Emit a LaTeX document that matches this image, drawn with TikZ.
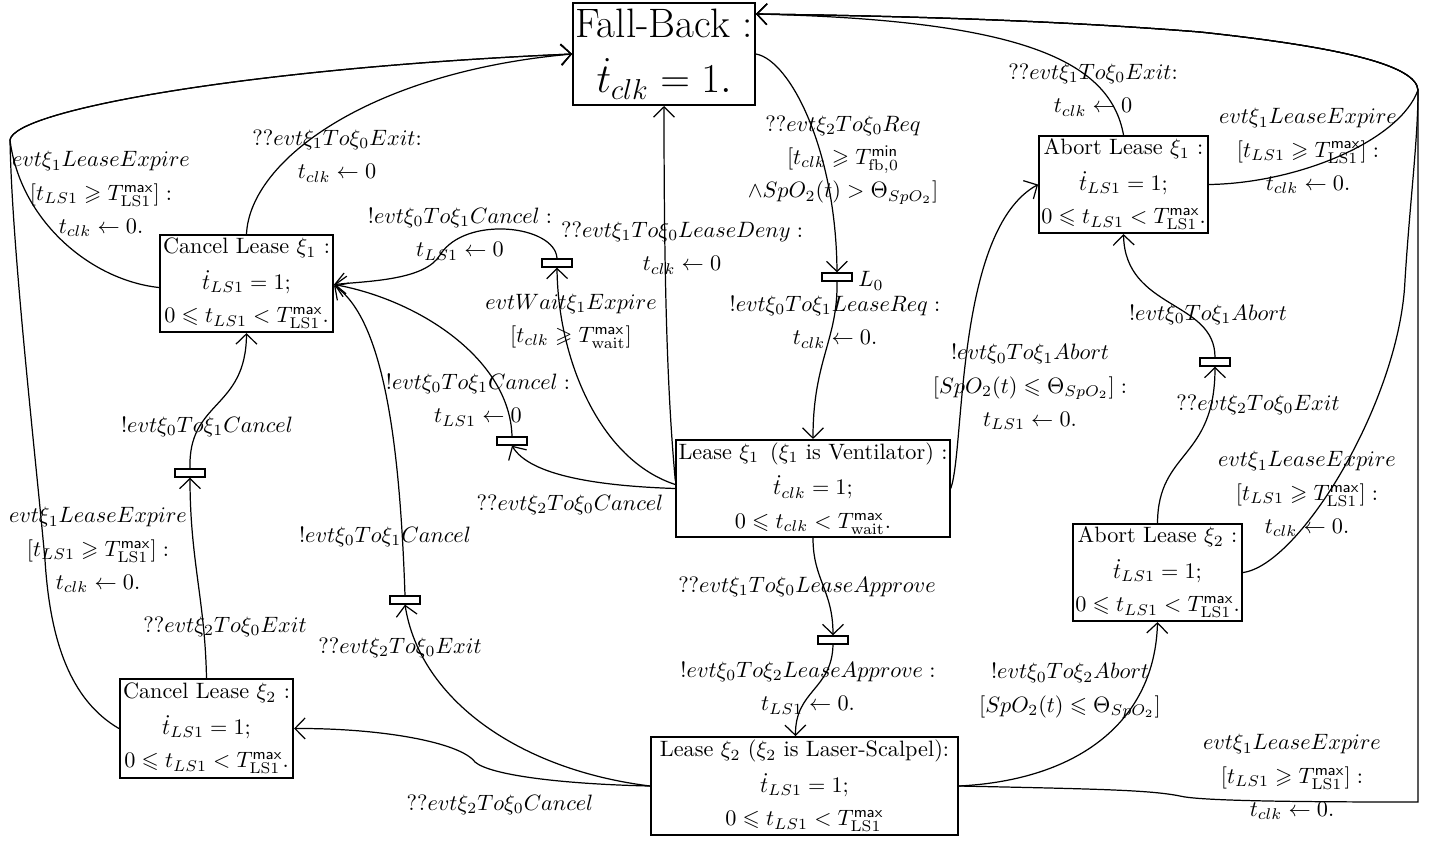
\RequirePackage{fix-cm}
\documentclass[tikz,border=0pt]{standalone}
\usepackage{amsmath,amssymb}
\usetikzlibrary{arrows.meta,calc}

\newcommand{\Tmx}[1]{T^{\mathsf{max}}_{\mathrm{#1}}}

\begin{document}
\begin{tikzpicture}[x=0.45pt,y=-0.45pt,
  box/.style={draw, line width=0.9pt, align=center, inner sep=1pt, font=\normalsize},
  chan/.style={draw, line width=0.6pt, minimum width=13.5pt, minimum height=3.6pt, inner sep=0pt},
  arr/.style={line width=0.55pt, -{Straight Barb[length=4.6pt,width=9.4pt]}},
  lab/.style={align=center, inner sep=0pt},
]
\useasboundingbox (0,0) rectangle (1437,840);

% locations
\node[box, minimum width=81pt, minimum height=45.9pt, font=\fontsize{18.5}{22}\selectfont] (fb) at (664,54)
  {Fall-Back :\\[3pt] $\dot t_{clk} = 1.$};
\node[box, minimum width=77.9pt, minimum height=43.7pt] (cl1) at (246.5,283.5)
  {Cancel Lease $\xi_1$ :\\[4pt] $\dot t_{LS1} = 1;$\\[3pt] $0 \leqslant t_{LS1} < \Tmx{LS1}.$};
\node[box, minimum width=76pt, minimum height=43.7pt] (al1) at (1123.5,184.5)
  {Abort Lease $\xi_1$ :\\[4pt] $\dot t_{LS1} = 1;$\\[3pt] $0 \leqslant t_{LS1} < \Tmx{LS1}.$};
\node[box, minimum width=120.6pt, minimum height=43.7pt] (l1) at (813,488.5)
  {Lease $\xi_1$\enspace($\xi_1$ is Ventilator) :\\[4pt] $\dot t_{clk} = 1;$\\[3pt] $0 \leqslant t_{clk} < \Tmx{wait}.$};
\node[box, minimum width=76pt, minimum height=43.7pt] (al2) at (1157.5,572.5)
  {Abort Lease $\xi_2$ :\\[4pt] $\dot t_{LS1} = 1;$\\[3pt] $0 \leqslant t_{LS1} < \Tmx{LS1}.$};
\node[box, minimum width=77.9pt, minimum height=44.5pt] (cl2) at (206.5,728.5)
  {Cancel Lease $\xi_2$ :\\[4pt] $\dot t_{LS1} = 1;$\\[3pt] $0 \leqslant t_{LS1} < \Tmx{LS1}.$};
\node[box, minimum width=138pt, minimum height=44pt] (l2) at (804.5,786)
  {Lease $\xi_2$ ($\xi_2$ is Laser-Scalpel):\\[4pt] $\dot t_{LS1} = 1;$\\[3pt] $0 \leqslant t_{LS1} < \Tmx{LS1}$};

% synchronisation markers
\node[chan] (rA) at (557,263) {};
\node[chan] (rB) at (512,441) {};
\node[chan] (rC) at (405,600) {};
\node[chan] (rD) at (190,473) {};
\node[chan] (r0) at (837,277) {};
\node[chan] (rE) at (833,640) {};
\node[chan] (rF) at (1215,362) {};
\node[lab, anchor=west] (nL0) at (858,281) {$L_0$};

% junctions of the long return lines
\coordinate (jL) at (10,140);
\coordinate (jR) at (1418,90);

% Fall-Back -> Lease xi_1
\draw[arr] (fb.east) .. controls (790,60) and (836,150) .. (r0.north);
\draw[arr] (r0.south) .. controls (838,340) and (813,360) .. (l1.north);

% Lease xi_1 outgoing
\draw[arr] ($(l1.west)+(0,-8)$) .. controls (668,400) and (664,300) .. (fb.south);
\draw[arr] ($(l1.west)+(0,-4)$) .. controls (600,460) and (558,360) .. (rA.south);
\draw[arr] (l1.west) .. controls (600,486) and (530,476) .. (rB.south);
\draw[arr] (l1.south) .. controls (813,580) and (833,590) .. (rE.north);
\draw[arr] (l1.east) .. controls (965,450) and (955,230) .. (al1.west);

% markers -> targets
\draw[arr] (rA.north) .. controls (555,225) and (465,215) .. (440,255)
  .. controls (425,280) and (370,281) .. ($(cl1.east)+(0,1)$);
\draw[arr] (rB.north) .. controls (510,360) and (420,300) .. ($(cl1.east)+(0,1)$);
\draw[arr] (rC.north) .. controls (400,450) and (385,320) .. ($(cl1.east)+(0,2)$);
\draw[arr] (rD.north) .. controls (188,400) and (246,410) .. (cl1.south);
\draw[arr] (rE.south) .. controls (832,690) and (795,690) .. ($(l2.north)+(-9,0)$);
\draw[arr] (rF.north) .. controls (1215,300) and (1125,310) .. (al1.south);

% Lease xi_2 outgoing
\draw[arr] (l2.west) .. controls (520,770) and (420,700) .. (rC.south);
\draw[arr] (l2.west) .. controls (560,784) and (490,775) .. (475,762)
  .. controls (460,742) and (380,728) .. (cl2.east);
\draw[arr] (l2.east) .. controls (1080,780) and (1155,720) .. (al2.south);
\draw[arr] (l2.east) .. controls (1100,789) and (1150,790) .. (1180,796)
  .. controls (1200,801) and (1300,802) .. (1418,802) -- (jR)
  .. controls (1416,65) and (1340,47) .. (1200,32)
  .. controls (1050,20) and (900,16) .. ($(fb.north east)+(0,12)$);

% Abort xi_2 outgoing
\draw[arr] (al2.north) .. controls (1158,450) and (1215,460) .. (rF.south);
\draw[arr] (al2.east) .. controls (1300,565) and (1400,400) .. (1405,280)
  .. controls (1410,200) and (1418,140) .. (jR)
  .. controls (1416,65) and (1340,47) .. (1200,32)
  .. controls (1050,20) and (900,16) .. ($(fb.north east)+(0,12)$);

% Abort xi_1 outgoing
\draw[arr] (al1.north) .. controls (1110,60) and (1020,20) .. ($(fb.north east)+(0,12)$);
\draw[arr] (al1.east) .. controls (1300,183) and (1400,140) .. (jR)
  .. controls (1416,65) and (1340,47) .. (1200,32)
  .. controls (1050,20) and (900,16) .. ($(fb.north east)+(0,12)$);

% Cancel xi_1 outgoing
\draw[arr] (cl1.north) .. controls (250,160) and (370,72) .. (fb.west);
\draw[arr] ($(cl1.west)+(0,4)$) .. controls (90,280) and (20,220) .. (jL)
  .. controls (14,110) and (250,68) .. (fb.west);

% Cancel xi_2 outgoing
\draw[arr] (cl2.north) .. controls (205,600) and (190,560) .. (rD.south);
\draw[arr] (cl2.west) .. controls (70,700) and (50,640) .. (45,560)
  .. controls (35,450) and (12,250) .. (jL)
  .. controls (14,110) and (250,68) .. (fb.west);

% transition labels
\node[lab] (lb1) at (101,194) {$evt\xi_1LeaseExpire$\\[3pt]$[t_{LS1} \geqslant \Tmx{LS1}]:$\\[3pt]$t_{clk} \leftarrow 0.$};
\node[lab] (lb2) at (337,156) {$??evt\xi_1To\xi_0Exit$:\\[3pt]$t_{clk} \leftarrow 0$};
\node[lab] (lb3) at (98,550) {$evt\xi_1LeaseExpire$\\[3pt]$[t_{LS1} \geqslant \Tmx{LS1}]:$\\[3pt]$t_{clk} \leftarrow 0.$};
\node[lab] (lb4) at (207,427) {$!evt\xi_0To\xi_1Cancel$};
\node[lab] (lb5) at (225,627) {$??evt\xi_2To\xi_0Exit$};
\node[lab] (lb6) at (385,537) {$!evt\xi_0To\xi_1Cancel$};
\node[lab] (lb7) at (400,648) {$??evt\xi_2To\xi_0Exit$};
\node[lab] (lb8) at (500,805) {$??evt\xi_2To\xi_0Cancel$};
\node[lab] (lb9) at (460,234) {$!evt\xi_0To\xi_1Cancel:$\\[3pt]$t_{LS1} \leftarrow 0$};
\node[lab] (lb10) at (571,321) {$evtWait\xi_1Expire$\\[3pt]$[t_{clk} \geqslant \Tmx{wait}]$};
\node[lab] (lb11) at (478,400) {$!evt\xi_0To\xi_1Cancel:$\\[3pt]$t_{LS1} \leftarrow 0$};
\node[lab] (lb12) at (570,505) {$??evt\xi_2To\xi_0Cancel$};
\node[lab] (lb13) at (682,248) {$??evt\xi_1To\xi_0LeaseDeny:$\\[3pt]$t_{clk} \leftarrow 0$};
\node[lab] (lb14) at (843,160) {$??evt\xi_2To\xi_0Req$\\[3pt]$[t_{clk} \geqslant T^{\mathsf{min}}_{\mathrm{fb},0}$\\[3pt]$\wedge SpO_2(t) > \Theta_{SpO_2}]$};
\node[lab] (lb15) at (835,322) {$!evt\xi_0To\xi_1LeaseReq:$\\[3pt]$t_{clk} \leftarrow 0.$};
\node[lab] (lb16) at (807,587) {$??evt\xi_1To\xi_0LeaseApprove$};
\node[lab] (lb17) at (808,688) {$!evt\xi_0To\xi_2LeaseApprove:$\\[3pt]$t_{LS1} \leftarrow 0.$};
\node[lab] (lb18) at (1030,387) {$!evt\xi_0To\xi_1Abort$\\[3pt]$[SpO_2(t) \leqslant \Theta_{SpO_2}]:$\\[3pt]$t_{LS1} \leftarrow 0.$};
\node[lab] (lb19) at (1093,90) {$??evt\xi_1To\xi_0Exit$:\\[3pt]$t_{clk} \leftarrow 0$};
\node[lab] (lb20) at (1308,151) {$evt\xi_1LeaseExpire$\\[3pt]$[t_{LS1} \geqslant \Tmx{LS1}]:$\\[3pt]$t_{clk} \leftarrow 0.$};
\node[lab] (lb21) at (1307,494) {$evt\xi_1LeaseExpire$\\[3pt]$[t_{LS1} \geqslant \Tmx{LS1}]:$\\[3pt]$t_{clk} \leftarrow 0.$};
\node[lab] (lb22) at (1292,777) {$evt\xi_1LeaseExpire$\\[3pt]$[t_{LS1} \geqslant \Tmx{LS1}]:$\\[3pt]$t_{clk} \leftarrow 0.$};
\node[lab] (lb23) at (1070,691) {$!evt\xi_0To\xi_2Abort$\\[3pt]$[SpO_2(t) \leqslant \Theta_{SpO_2}]$};
\node[lab] (lb24) at (1258,405) {$??evt\xi_2To\xi_0Exit$};
\node[lab] (lb25) at (1208,315) {$!evt\xi_0To\xi_1Abort$};
\end{tikzpicture}
\end{document}
